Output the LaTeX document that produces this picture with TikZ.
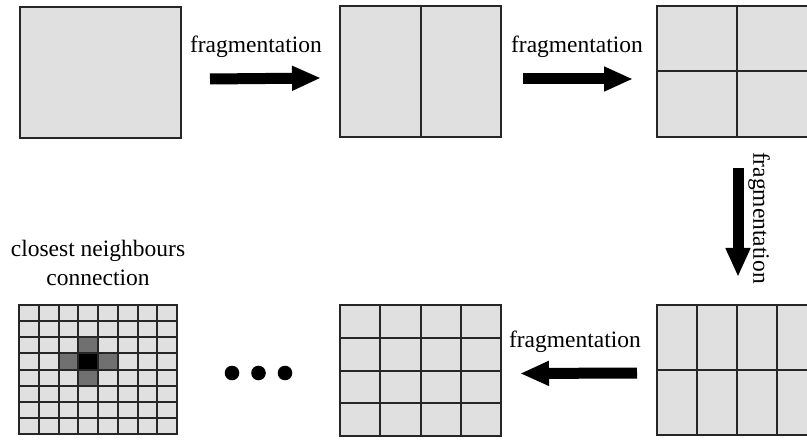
\documentclass[tikz,border=0pt]{standalone}
\usepackage{fontspec}
\setmainfont{Liberation Serif}
\usetikzlibrary{arrows.meta,calc}
\definecolor{cellfill}{HTML}{E0E0E0}
\definecolor{edgecol}{HTML}{262626}
\definecolor{neigh}{HTML}{707070}
\tikzset{
  panel/.style={draw=edgecol, line width=2pt, fill=cellfill, rectangle,
    minimum width=161pt, minimum height=131pt, inner sep=0pt, outer sep=0pt},
  divline/.style={draw=edgecol, line width=2pt},
  bigarrow/.style={draw=black, line width=11pt, -{Triangle[length=29pt,width=23pt]}},
  lbl/.style={font=\fontsize{23.5}{28}\selectfont, inner sep=0pt},
  dotnode/.style={circle, fill=black, minimum size=14.6pt, inner sep=0pt},
}
\begin{document}
\begin{tikzpicture}[x=1pt,y=-1pt]
\useasboundingbox (0,0) rectangle (807,441);
\clip (0,0) rectangle (807,441);

% top row
\node[panel] (b1) at (100.5,72.5) {};
\node[panel] (b2) at (420.5,71.5) {};
\draw[divline] (b2.north) -- (b2.south);
\node[panel, minimum width=160pt] (b3) at (737,71.5) {};
\draw[divline] (b3.north) -- (b3.south);
\draw[divline] (b3.west) -- (b3.east);

% bottom right
\node[panel, minimum width=160pt, minimum height=130pt] (b4) at (737,370) {};
\foreach \f in {0.25,0.5,0.75}
  \draw[divline] ($(b4.north west)!\f!(b4.north east)$) -- ($(b4.south west)!\f!(b4.south east)$);
\draw[divline] (b4.west) -- (b4.east);

% bottom middle
\node[panel] (b5) at (420.5,370.5) {};
\foreach \f in {0.25,0.5,0.75}{
  \draw[divline] ($(b5.north west)!\f!(b5.north east)$) -- ($(b5.south west)!\f!(b5.south east)$);
  \draw[divline] ($(b5.north west)!\f!(b5.south west)$) -- ($(b5.north east)!\f!(b5.south east)$);
}

% bottom left grid
\node[panel, minimum width=158pt, minimum height=129pt] (b6) at (98,369.5) {};
\foreach \i/\j in {3/2,3/4,2/3,4/3}
  \fill[neigh] ($(b6.north west)+(\i*19.75,\j*16.125)$) rectangle ++(19.75,16.125);
\fill[black] ($(b6.north west)+(3*19.75,3*16.125)$) rectangle ++(19.75,16.125);
\foreach \k in {1,...,7}{
  \draw[divline] ($(b6.north west)+(\k*19.75,0)$) -- ($(b6.south west)+(\k*19.75,0)$);
  \draw[divline] ($(b6.north west)+(0,\k*16.125)$) -- ($(b6.north east)+(0,\k*16.125)$);
}
\draw[divline] (b6.north west) rectangle (b6.south east);

% arrows
\draw[bigarrow] ([xshift=29pt,yshift=-6.5pt]b1.east) -- ([xshift=-19pt,yshift=-6.5pt]b2.west);
\draw[bigarrow] ([xshift=22pt,yshift=-7.5pt]b2.east) -- ([xshift=-24pt,yshift=-7.5pt]b3.west);
\draw[bigarrow] ([xshift=1pt,yshift=-31pt]b3.south) -- ([xshift=1pt,yshift=28pt]b4.north);
\draw[bigarrow] ([xshift=-20pt,yshift=-3pt]b4.west) -- ([xshift=19pt,yshift=-3pt]b5.east);

% labels
\node[lbl, anchor=base] (t1) at (256,53) {fragmentation};
\node[lbl, anchor=base] (t2) at (577,53) {fragmentation};
\node[lbl, rotate=-90] (t3) at (759,218) {fragmentation};
\node[lbl, anchor=base] (t4) at (575,347) {fragmentation};
\node[lbl, anchor=base] (t5) at (98,257) {closest neighbours};
\node[lbl, anchor=base] (t6) at (98,285) {connection};

% dots
\node[dotnode] (d1) at (232,373) {};
\node[dotnode] (d2) at (258.5,373) {};
\node[dotnode] (d3) at (285,373) {};
\end{tikzpicture}
\end{document}
